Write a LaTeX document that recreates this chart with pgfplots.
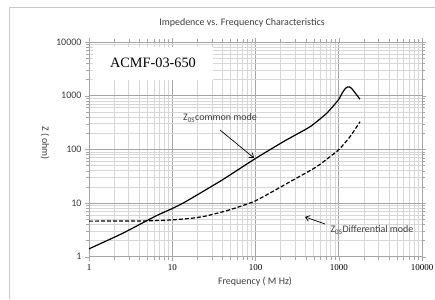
\documentclass[border=0pt]{standalone}
\usepackage{fontspec}
\setmainfont{Carlito}
\newfontfamily\tnr{Liberation Serif}
\usepackage{pgfplots}
\pgfplotsset{compat=1.18}
\usetikzlibrary{arrows.meta}
\definecolor{majg}{RGB}{165,165,165}
\definecolor{ming}{RGB}{215,215,215}
\definecolor{frameg}{RGB}{200,200,200}
\definecolor{txtg}{RGB}{60,60,60}
\begin{document}
\begin{tikzpicture}[x=1pt,y=1pt]
\path[use as bounding box] (-89,-42.3) rectangle (346,256.7);
\draw[frameg, line width=0.8pt] (-80,-42.3) -- (-80,249.7) -- (346,249.7);
\begin{axis}[at={(0,0)}, anchor=south west, scale only axis,
  width=333pt, height=214.7pt,
  xmode=log, ymode=log, xmin=1, xmax=10000, ymin=1, ymax=10000,
  xtick={1,10,100,1000,10000}, xticklabels={1,10,100,1000,10000},
  ytick={1,10,100,1000,10000}, yticklabels={1,10,100,1000,10000},
  minor xtick={2,3,...,9,20,30,...,90,200,300,...,900,2000,3000,...,9000},
  minor ytick={2,3,...,9,20,30,...,90,200,300,...,900,2000,3000,...,9000},
  grid=both,
  major grid style={majg, line width=0.8pt},
  minor grid style={ming, line width=0.5pt},
  axis line style={majg, line width=0.8pt},
  tick style={majg}, tick align=outside,
  major tick length=4pt, minor tick length=3pt,
  xticklabel style={font=\tnr\fontsize{9}{11}\selectfont, text=black},
  yticklabel style={font=\fontsize{10}{12}\selectfont, text=txtg},
  /pgf/number format/assume math mode=true,
  clip=false,
]
\addplot[black, line width=1.2pt, smooth, tension=0.3] coordinates {
 (1,1.4) (2.5,2.7) (6.3,5.7) (10,7.9) (14.5,10.6) (40,27) (96,65) (216,139)
 (452,264) (716,470) (988,831) (1100,1120) (1189,1340) (1270,1450) (1330,1460)
 (1430,1360) (1800,857)};
\addplot[black, line width=1.2pt, dash pattern=on 4pt off 2pt, smooth, tension=0.3] coordinates {
 (1,4.6) (5,4.65) (10,4.85) (17,5.2) (25,5.7) (48,7.4) (100,11) (285,27)
 (543,47.5) (988,97) (1365,172) (1800,327)};
\draw[-{Straight Barb[length=4pt,width=6pt]}, black, line width=0.7pt]
  (axis cs:37.5,229) -- (axis cs:96,69);
\draw[-{Straight Barb[length=4pt,width=6pt]}, black, line width=0.7pt]
  (axis cs:684,4.07) -- (axis cs:393,5.5);
\node[font=\fontsize{10}{12}\selectfont, text=txtg] at (axis cs:37.5,384)
  {Z\textsubscript{0S}common mode};
\node[font=\fontsize{10}{12}\selectfont, text=txtg, anchor=west] at (axis cs:723,3.14)
  {Z\textsubscript{0S}Differential mode};
\end{axis}
\fill[white] (4,176.7) rectangle (124,209.7);
\node[font=\tnr\fontsize{14.3}{16}\selectfont] at (64,193.7) {ACMF-03-650};
\node[font=\fontsize{10}{12}\selectfont, text=txtg] at (153,233.7)
  {Impedence vs. Frequency Characteristics};
\node[font=\fontsize{10}{12}\selectfont, text=txtg] at (166,-25.3) {Frequency ( M Hz)};
\node[font=\fontsize{10}{12}\selectfont, text=txtg, rotate=-90] at (-44,113.7) {Z ( ohm)};
\end{tikzpicture}
\end{document}
